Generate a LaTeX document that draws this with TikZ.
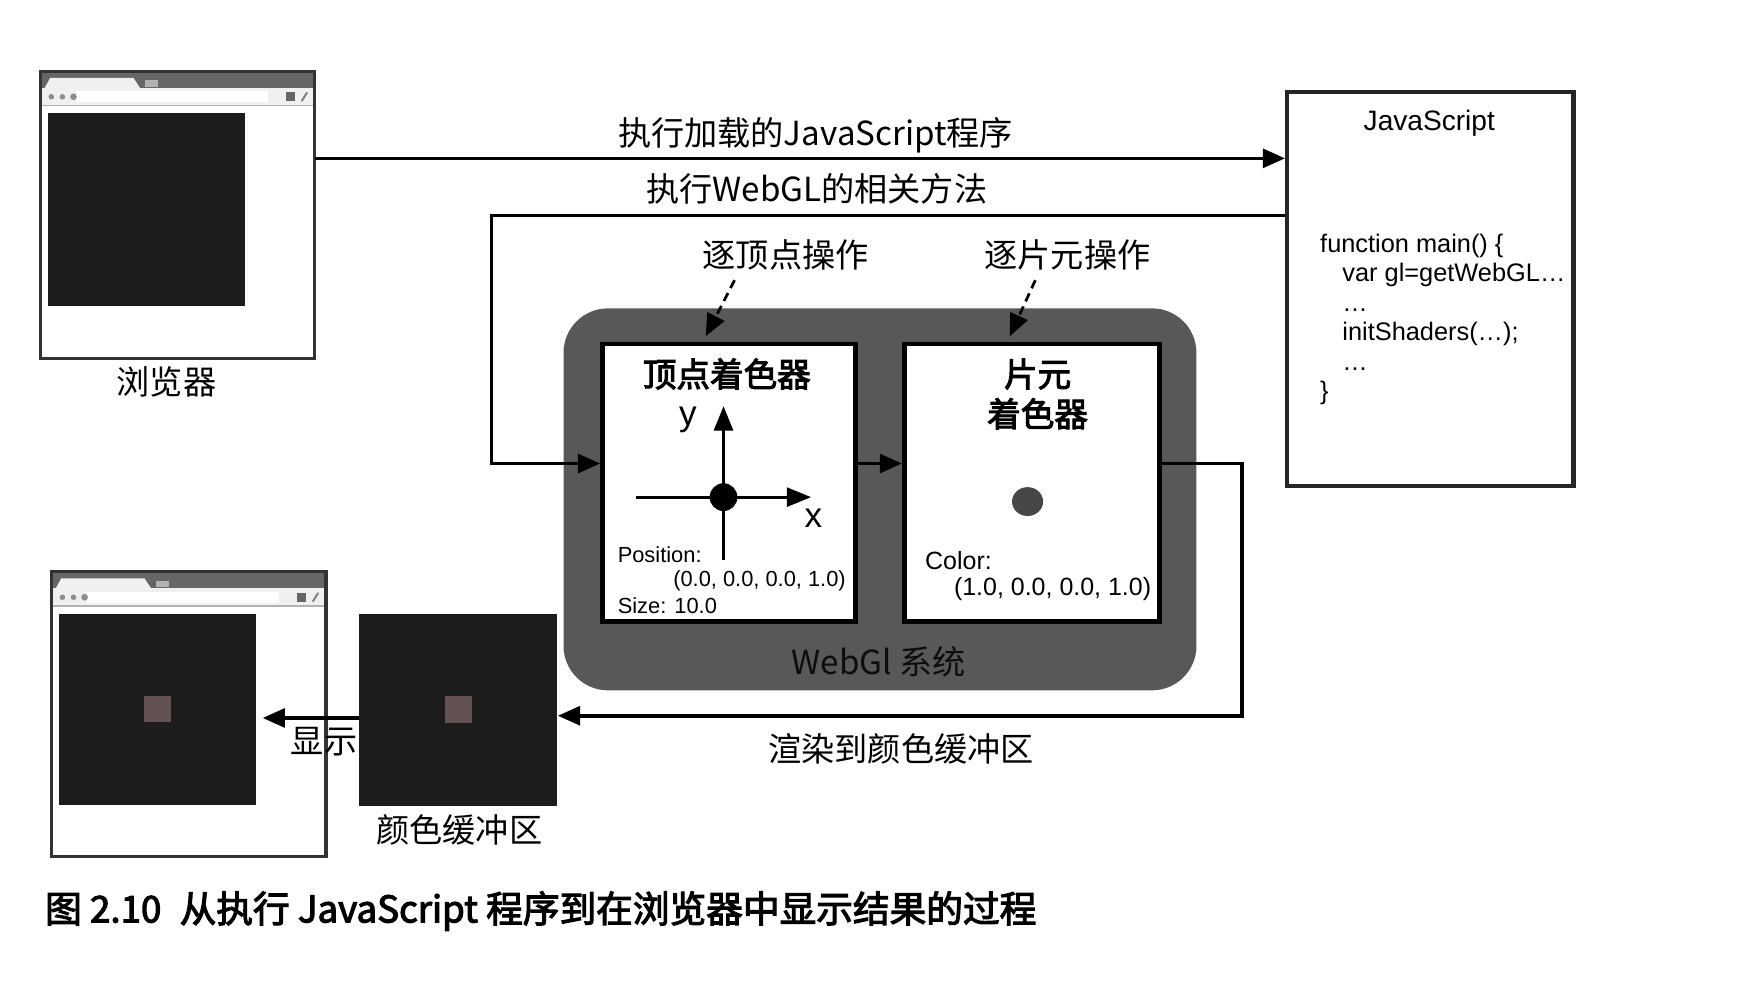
\documentclass[tikz,border=0pt]{standalone}
\usepackage{fontspec}
\setmainfont{Liberation Sans}
\newfontfamily\cjk{Noto Sans CJK SC}
\newfontfamily\cjkmid[FakeBold=3]{Noto Sans CJK SC}
\usetikzlibrary{arrows.meta, calc, positioning}
\definecolor{canvasblack}{RGB}{28,28,28}
\definecolor{systemgray}{RGB}{88,88,88}
\definecolor{pointred}{RGB}{100,82,82}

% browser window chrome on top of a window node
\newcommand{\chrome}[1]{%
  \fill[black!60] (#1.north west) rectangle ($(#1.north east)+(0,15)$);
  \fill[black!6] ($(#1.north west)+(4,15)$) -- ($(#1.north west)+(9,6)$)
     -- ($(#1.north west)+(84,6)$) -- ($(#1.north west)+(90,15)$) -- cycle;
  \fill[black!30] ($(#1.north west)+(94,8)$) rectangle ($(#1.north west)+(106,14)$);
  \fill[black!6] ($(#1.north west)+(0,15)$) rectangle ($(#1.north east)+(0,31)$);
  \fill[white] ($(#1.north west)+(32,18)$) rectangle ($(#1.north east)+(-42,28)$);
  \fill[black!45] ($(#1.north west)+(10,23)$) circle[radius=0.025cm]
                  ($(#1.north west)+(20,23)$) circle[radius=0.025cm]
                  ($(#1.north west)+(30,23)$) circle[radius=0.03cm];
  \fill[black!60] ($(#1.north east)+(-26,19)$) rectangle ($(#1.north east)+(-18,27)$);
  \draw[black!50, line width=0.5pt] ($(#1.north east)+(-12,27)$) -- ($(#1.north east)+(-7,19)$);
  \draw[black!30, line width=0.4pt] ($(#1.north west)+(0,31)$) -- ($(#1.north east)+(0,31)$);
  \draw[winline] (#1.north west) rectangle (#1.south east);
}

\begin{document}
\begin{tikzpicture}[
    x=0.01cm, y=-0.01cm,
    win/.style={fill=white, inner sep=0pt, minimum width=2.46cm},
    winline/.style={draw=black!80, line width=0.8pt},
    cvs/.style={fill=canvasblack, inner sep=0pt, minimum width=1.78cm, minimum height=1.73cm},
    dotsq/.style={fill=pointred, inner sep=0pt, minimum size=0.24cm},
    shader/.style={draw=black, line width=1.2pt, fill=white, inner sep=0pt, minimum height=2.5cm},
    lbl/.style={font=\cjk\fontsize{8.5}{10}\selectfont, inner sep=0pt},
    title/.style={font=\cjkmid\fontsize{8.6}{10.2}\selectfont, inner sep=0pt, align=center},
    small/.style={font=\fontsize{5.6}{6.5}\selectfont, inner sep=0pt, anchor=west},
    code/.style={font=\fontsize{6.5}{7.55}\selectfont, inner sep=0pt, align=left},
    arr/.style={-{Triangle[length=0.2cm, width=0.17cm]}, line width=0.9pt, black},
    ptr/.style={arr, dash pattern=on 0.08cm off 0.05cm, line width=0.7pt},
    axis/.style={-{Triangle[length=0.22cm, width=0.17cm]}, line width=0.8pt}
  ]
  \useasboundingbox (0,0) rectangle (1568,885);

  % browser before
  \node[win, minimum height=2.57cm] (browser) at (160,193.5) {};
  \chrome{browser}
  \node[cvs, minimum height=1.74cm] (cv1) at (132,189) {};
  \node[lbl] (browserlbl) at (150,344) {浏览器};

  % JavaScript program
  \node[draw=black!85, line width=1.1pt, minimum width=2.58cm, minimum height=3.55cm] (js) at (1289,260.5) {};
  \node[font=\fontsize{7.2}{8}\selectfont, inner sep=0pt] (jstitle) at (1288,111) {JavaScript};
  \node[code, anchor=north west] (jscode) at (1189,210) {function main() \{\\
    \hspace*{0.2cm}var gl=getWebGL…\\
    \hspace*{0.2cm}…\\
    \hspace*{0.2cm}initShaders(…);\\
    \hspace*{0.2cm}…\\
    \}};

  % WebGL system
  \node[fill=systemgray, rounded corners=0.4cm, minimum width=5.7cm, minimum height=3.44cm] (webgl) at (793,450) {};
  \node[lbl, text=black!95] (webgllbl) at (792,596) {WebGl 系统};

  \node[shader, minimum width=2.28cm] (vs) at (657,435) {};
  \node[shader, minimum width=2.30cm] (fs) at (930,435) {};
  \node[title] (vstitle) at (655,337) {顶点着色器};
  \node[title] (fstitle) at (935,355) {片元\\着色器};

  % vertex shader content
  \draw[axis] (652,505) -- (652,366);
  \draw[axis] (573,448) -- (731,448);
  \fill (652,448) circle[radius=0.125cm];
  \node[font=\fontsize{9}{10}\selectfont, inner sep=0pt] (ylbl) at (620,378) {y};
  \node[font=\fontsize{9}{10}\selectfont, inner sep=0pt] (xlbl) at (733,467) {x};
  \node[small] (pos) at (556,500) {Position:};
  \node[small] (posval) at (606,523) {(0.0, 0.0, 0.0, 1.0)};
  \node[small] (size) at (556,546) {Size: 10.0};

  % fragment shader content
  \fill[black!72] (926,452) circle[x radius=0.14cm, y radius=0.13cm];
  \node[small, font=\fontsize{6.4}{7.4}\selectfont] (col) at (833,505) {Color:};
  \node[small, font=\fontsize{6.4}{7.4}\selectfont] (colval) at (859,531) {(1.0, 0.0, 0.0, 1.0)};

  % per-vertex / per-fragment pointers
  \node[lbl] (opv) at (708,230) {逐顶点操作};
  \node[lbl] (opf) at (962,230) {逐片元操作};
  \coordinate (vtip) at (636,303);
  \coordinate (ftip) at (910,303);
  \draw[ptr] ([xshift=-0.46cm, yshift=-0.08cm]opv.south) -- (vtip);
  \draw[ptr] ([xshift=-0.29cm, yshift=-0.08cm]opf.south) -- (ftip);

  % load and run
  \coordinate (loadout) at ($(browser.north east)!0.3035!(browser.south east)$);
  \draw[arr] (loadout) -- (loadout -| js.west);
  \node[lbl] (loadlbl) at (735,122) {执行加载的JavaScript程序};

  \coordinate (callout) at ($(js.north west)!0.3155!(js.south west)$);
  \coordinate (vsin) at ($(vs.north west)!0.432!(vs.south west)$);
  \coordinate (xturn) at ($(vsin)+(-98,0)$);
  \draw[arr] (callout) -| (xturn) -- (vsin);
  \node[lbl] (calllbl) at (736,170) {执行WebGL的相关方法};

  \draw[arr] (vsin -| vs.east) -- (vsin -| fs.west);

  % colour buffer
  \node[cvs] (buffer) at (413,639.5) {};
  \node[dotsq] (bufpix) at (buffer) {};
  \node[lbl] (bufferlbl) at (414,748) {颜色缓冲区};

  \draw[arr] (vsin -| fs.east) -- ++(72,0) |- ([yshift=-0.055cm]buffer.east);
  \node[lbl] (renderlbl) at (812,675) {渲染到颜色缓冲区};

  % browser after
  \node[win, minimum height=2.55cm] (browser2) at (170,643.5) {};
  \chrome{browser2}
  \node[cvs, minimum height=1.72cm] (cv2) at (142,639) {};
  \node[dotsq] (cv2pix) at (cv2) {};

  \coordinate (showfrom) at ([yshift=-0.075cm]buffer.west);
  \draw[arr, shorten >=0.05cm] (showfrom) -- (showfrom -| cv2.east);
  \node[lbl] (showlbl) at (292,668) {显示};

  % caption
  \node[anchor=west, inner sep=0pt, font=\cjkmid\fontsize{9.4}{11}\selectfont] (caption) at (40,821)
    {图 2.10\enspace 从执行 JavaScript 程序到在浏览器中显示结果的过程};
\end{tikzpicture}
\end{document}
